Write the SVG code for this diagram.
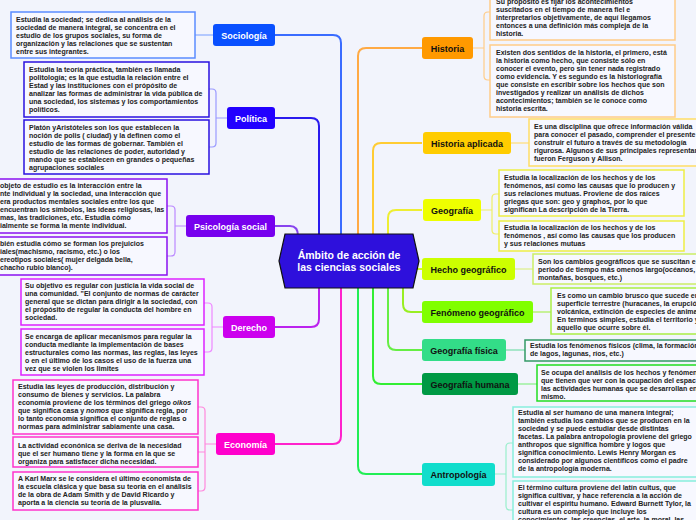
<svg xmlns="http://www.w3.org/2000/svg" width="696" height="520" viewBox="0 0 696 520">
<style>
.t{font-family:"Liberation Sans",Arial,sans-serif;font-weight:bold;font-size:7px;fill:#222}
.lb{font-family:"Liberation Sans",Arial,sans-serif;font-weight:bold;font-size:9px;text-anchor:middle}
.w{fill:#fff}.k{fill:#111}
.box{fill:#f7f8ff;stroke-width:1.5}
.c{fill:none;stroke-width:2}
.b{fill:none;stroke-width:1.2}
</style>
<rect width="696" height="520" fill="#f2f4fc"/>
<g id="connectors">
<path class="c" stroke="#3a6cff" d="M275,35H333Q341,35 341,43V234"/>
<path class="c" stroke="#2a1aee" d="M275,118H311Q319,118 319,126V234"/>
<path class="c" stroke="#8844ee" d="M275,226H290Q298,226 298,236"/>
<path class="c" stroke="#bb22ee" d="M275,327H311Q319,327 319,319V288"/>
<path class="c" stroke="#ff22cc" d="M275,444H333Q341,444 341,436V288"/>
<path class="c" stroke="#ffaa44" d="M422,48H366Q358,48 358,56V234"/>
<path class="c" stroke="#ffcc33" d="M422,143H381Q373,143 373,151V234"/>
<path class="c" stroke="#eeee33" d="M422,210H396Q388,210 388,218V234"/>
<path class="c" stroke="#ccff22" d="M416,269H422"/>
<path class="c" stroke="#99ee22" d="M422,312H411Q403,312 403,304V288"/>
<path class="c" stroke="#66ee44" d="M422,350H396Q388,350 388,342V288"/>
<path class="c" stroke="#33ee33" d="M422,384H381Q373,384 373,376V288"/>
<path class="c" stroke="#22ee55" d="M422,474H366Q358,474 358,466V288"/>
<path class="b" stroke="#88aaff" d="M195,35H213"/>
<path class="b" stroke="#9a9aff" d="M227,118H216M209,89H212Q216,89 216,93V143Q216,147 212,147H209"/>
<path class="b" stroke="#bb88ff" d="M186,226H175M167,206H171Q175,206 175,210V252Q175,256 171,256H167"/>
<path class="b" stroke="#ee88ff" d="M223,327H212M204,303H208Q212,303 212,307V348Q212,352 208,352H204"/>
<path class="b" stroke="#ff88dd" d="M216,444H205M198,407H201Q205,407 205,411V487Q205,491 201,491H198M198,452H205"/>
<path class="b" stroke="#ffcc88" d="M473,48H484M490,12H488Q484,12 484,16V76Q484,80 488,80H490"/>
<path class="b" stroke="#ffdd77" d="M511,143H529"/>
<path class="b" stroke="#eeee66" d="M481,210H492M499,194H496Q492,194 492,198V230Q492,234 496,234H499"/>
<path class="b" stroke="#ddee88" d="M515,269H533"/>
<path class="b" stroke="#aaee55" d="M533,312H551"/>
<path class="b" stroke="#77ddaa" d="M506,350H525"/>
<path class="b" stroke="#88ee88" d="M518,384H537"/>
<path class="b" stroke="#99eecc" d="M495,474H506M513,443H510Q506,443 506,447V506Q506,510 510,510H513"/>
</g>
<g id="center">
<polygon points="279,261 285,234 413,234 419,261 413,288 285,288" fill="#2e10dc" stroke="#111" stroke-width="1.2"/>
<text x="349" y="259" text-anchor="middle" style="font-family:'Liberation Sans',Arial,sans-serif;font-weight:bold;font-size:10.5px;fill:#fff">Ámbito de acción de</text>
<text x="349" y="271" text-anchor="middle" style="font-family:'Liberation Sans',Arial,sans-serif;font-weight:bold;font-size:10.5px;fill:#fff">las ciencias sociales</text>
</g>
<g id="sociologia">
<rect x="213" y="24" width="62" height="22" rx="3" fill="#0a50ff"/>
<text class="lb w" x="244" y="38.5">Sociología</text>
<rect class="box" x="11" y="12" width="184" height="46" stroke="#5b8cff"/>
<text class="t" x="16" y="22">Estudia la sociedad; se dedica al análisis de la</text>
<text class="t" x="16" y="30">sociedad de manera integral, se concentra en el</text>
<text class="t" x="16" y="38">estudio de los grupos sociales, su forma de</text>
<text class="t" x="16" y="46">organización y las relaciones que se sustentan</text>
<text class="t" x="16" y="54">entre sus integrantes.</text>
</g>
<g id="politica">
<rect x="227" y="107" width="48" height="22" rx="3" fill="#2200ff"/>
<text class="lb w" x="251" y="121.5">Política</text>
<rect class="box" x="24" y="62" width="185" height="55" stroke="#2a10e0"/>
<text class="t" x="29" y="72">Estudia la teoría práctica, también es llamada</text>
<text class="t" x="29" y="80">politología; es la que estudia la relación entre el</text>
<text class="t" x="29" y="88">Estad y las instituciones con el própósito de</text>
<text class="t" x="29" y="96">analizar las formas de administrar la vida pública de</text>
<text class="t" x="29" y="104">una sociedad, los sistemas y los comportamientos</text>
<text class="t" x="29" y="112">políticos.</text>
<rect class="box" x="24" y="120" width="185" height="54" stroke="#2a10e0"/>
<text class="t" x="29" y="130">Platón yAristóteles son los que establecen la</text>
<text class="t" x="29" y="138">noción de polis ( ciudad) y la definen como el</text>
<text class="t" x="29" y="146">estudio de las formas de gobernar. También el</text>
<text class="t" x="29" y="154">estudio de las relaciones de poder, autoridad y</text>
<text class="t" x="29" y="162">mando que se establecen en grandes o pequeñas</text>
<text class="t" x="29" y="170">agrupaciones sociales</text>
</g>
<g id="psicologia">
<rect x="186" y="215" width="89" height="22" rx="3" fill="#7700ee"/>
<text class="lb w" x="230.5" y="229.5">Psicología social</text>
<rect class="box" x="-2" y="179" width="169" height="54" stroke="#8a10f0"/>
<text class="t" x="0" y="188">objeto de estudio es la interacción entre la</text>
<text class="t" x="0" y="196">nte individual y la sociedad, una interacción que</text>
<text class="t" x="0" y="204">era productos mentales sociales entre los que</text>
<text class="t" x="0" y="212">encuentran los símbolos, las ideas religiosas, las</text>
<text class="t" x="0" y="220">mas, las tradiciones, etc. Estudia cómo</text>
<text class="t" x="0" y="228">ialmente se forma la mente individual.</text>
<rect class="box" x="-2" y="237" width="169" height="38" stroke="#8a10f0"/>
<text class="t" x="0" y="246">bién estudia cómo se forman los prejuicios</text>
<text class="t" x="0" y="254">iales(machismo, racismo, etc.) o los</text>
<text class="t" x="0" y="262">ereotipos sociales( mujer delgada bella,</text>
<text class="t" x="0" y="270">chacho rubio blanco).</text>
</g>
<g id="derecho">
<rect x="223" y="316" width="52" height="22" rx="3" fill="#cc00ee"/>
<text class="lb w" x="249" y="330.5">Derecho</text>
<rect class="box" x="21" y="279" width="183" height="46" stroke="#dd22ff"/>
<text class="t" x="25" y="288">Su objetivo es regular con justicia la vida social de</text>
<text class="t" x="25" y="296">una comunidad. "El conjunto de normas de carácter</text>
<text class="t" x="25" y="304">general que se dictan para dirigir a la sociedad, con</text>
<text class="t" x="25" y="312">el própósito de regular la conducta del hombre en</text>
<text class="t" x="25" y="320">sociedad.</text>
<rect class="box" x="21" y="329" width="183" height="46" stroke="#dd22ff"/>
<text class="t" x="25" y="339">Se encarga de aplicar mecanismos para regular la</text>
<text class="t" x="25" y="347">conducta mediante la implementación de bases</text>
<text class="t" x="25" y="355">estructurales como las normas, las reglas, las leyes</text>
<text class="t" x="25" y="363">o en el último de los casos el uso de la fuerza una</text>
<text class="t" x="25" y="371">vez que se violen los limites</text>
</g>
<g id="economia">
<rect x="216" y="433" width="59" height="22" rx="3" fill="#ff00cc"/>
<text class="lb w" x="245.5" y="447.5">Economía</text>
<rect class="box" x="13" y="380" width="185" height="54" stroke="#ff33cc"/>
<text class="t" x="18" y="389">Estudia las leyes de producción, distribución y</text>
<text class="t" x="18" y="397">consumo de bienes y servicios. La palabra</text>
<text class="t" x="18" y="405">economía proviene de los términos del griego <tspan font-style="italic">oikos</tspan></text>
<text class="t" x="18" y="413">que significa casa y <tspan font-style="italic">nomos</tspan> que significa regla, por</text>
<text class="t" x="18" y="421">lo tanto economía significa el conjunto de reglas o</text>
<text class="t" x="18" y="429">normas para administrar sabiamente una casa.</text>
<rect class="box" x="13" y="437" width="185" height="30" stroke="#ff33cc"/>
<text class="t" x="18" y="448">La actividad econónica se deriva de la necesidad</text>
<text class="t" x="18" y="456">que el ser humano tiene y la forma en la que se</text>
<text class="t" x="18" y="464">organiza para satisfacer dicha necesidad.</text>
<rect class="box" x="13" y="472" width="185" height="38" stroke="#ff33cc"/>
<text class="t" x="18" y="481">A Karl Marx se le considera el último economista de</text>
<text class="t" x="18" y="489">la escuela clásica y que basa su teoría en el análisis</text>
<text class="t" x="18" y="497">de la obra de Adam Smith y de David Ricardo y</text>
<text class="t" x="18" y="505">aporta a la ciencia su teoría de la plusvalía.</text>
</g>
<g id="historia">
<rect x="422" y="37" width="51" height="22" rx="3" fill="#ff9900"/>
<text class="lb k" x="447.5" y="51.5">Historia</text>
<rect class="box" x="490" y="-3" width="185" height="43" stroke="#ffcc88"/>
<text class="t" x="496" y="4.3">Su propósito es fijar los acontecimientos</text>
<text class="t" x="496" y="12.3">suscitados en el tiempo de manera fiel e</text>
<text class="t" x="496" y="20.3">interpretarlos objetivamente, de aquí llegamos</text>
<text class="t" x="496" y="28.3">entonces a una definición más compleja de la</text>
<text class="t" x="496" y="36.3">historia.</text>
<rect class="box" x="490" y="45" width="185" height="72" stroke="#ffcc88"/>
<text class="t" x="496" y="55">Existen dos sentidos de la historia, el primero, está</text>
<text class="t" x="496" y="63">la historia como hecho, que consiste sólo en</text>
<text class="t" x="496" y="71">conocer el evento, pero sin tener nada registrado</text>
<text class="t" x="496" y="79">como evidencia. Y es segundo es la historiografía</text>
<text class="t" x="496" y="87">que consiste en escribir sobre los hechos que son</text>
<text class="t" x="496" y="95">investigados y realizar un análisis de dichos</text>
<text class="t" x="496" y="103">acontecimientos; también se le conoce como</text>
<text class="t" x="496" y="111">historia escrita.</text>
</g>
<g id="historia-aplicada">
<rect x="423" y="132" width="88" height="22" rx="3" fill="#ffcc00"/>
<text class="lb k" x="467" y="146.5">Historia aplicada</text>
<rect class="box" x="529" y="119" width="172" height="47" stroke="#ffdd66"/>
<text class="t" x="534" y="128.5">Es una disciplina que ofrece información válida</text>
<text class="t" x="534" y="136.5">para conocer el pasado, comprender el presente</text>
<text class="t" x="534" y="144.5">construir el futuro a través de su metodología</text>
<text class="t" x="534" y="152.5">rigurosa. Algunos de sus principales representan</text>
<text class="t" x="534" y="160.5">fueron Ferguson y Allison.</text>
</g>
<g id="geografia">
<rect x="423" y="199" width="58" height="22" rx="3" fill="#eeff00"/>
<text class="lb k" x="452" y="213.5">Geografía</text>
<rect class="box" x="499" y="170" width="185" height="46" stroke="#eeee44"/>
<text class="t" x="504" y="180">Estudia la localización de los hechos y de los</text>
<text class="t" x="504" y="188">fenómenos, así como las causas que lo producen y</text>
<text class="t" x="504" y="196">sus relaciones mutuas. Proviene de dos raíces</text>
<text class="t" x="504" y="204">griegas que son: geo y graphos, por lo que</text>
<text class="t" x="504" y="212">significan La descripción de la Tierra.</text>
<rect class="box" x="499" y="221" width="185" height="30" stroke="#eeee44"/>
<text class="t" x="504" y="230">Estudia la localización de los hechos y de los</text>
<text class="t" x="504" y="238">fenómenos , así como las causas que los producen</text>
<text class="t" x="504" y="246">y sus relaciones mutuas</text>
</g>
<g id="hecho-geografico">
<rect x="422" y="258" width="93" height="22" rx="3" fill="#ccff00"/>
<text class="lb k" x="468.5" y="272.5">Hecho geográfico</text>
<rect class="box" x="533" y="254" width="170" height="30" stroke="#ccee66"/>
<text class="t" x="538" y="264">Son los cambios geográficos que se suscitan e</text>
<text class="t" x="538" y="272">periodo de tiempo más omenos largo(océanos,</text>
<text class="t" x="538" y="280">montañas, bosques, etc.)</text>
</g>
<g id="fenomeno-geografico">
<rect x="422" y="301" width="111" height="22" rx="3" fill="#80ff00"/>
<text class="lb k" x="477.5" y="315.5">Fenómeno geográfico</text>
<rect class="box" x="551" y="288" width="150" height="46" stroke="#aaee44"/>
<text class="t" x="557" y="298">Es como un cambio brusco que sucede en</text>
<text class="t" x="557" y="306">superficie terrestre (huracanes, la erupció</text>
<text class="t" x="557" y="314">volcánica, extinción de especies de anima</text>
<text class="t" x="557" y="322">En terminos simples, estudia el territorio y</text>
<text class="t" x="557" y="330">aquello que ocurre sobre él.</text>
</g>
<g id="geografia-fisica">
<rect x="422" y="339" width="84" height="22" rx="3" fill="#33dd88"/>
<text class="lb k" x="464" y="353.5">Geografía física</text>
<rect class="box" x="525" y="340" width="176" height="21" stroke="#339966"/>
<text class="t" x="530" y="347.5">Estudia los fenómenos físicos (clima, la formación</text>
<text class="t" x="530" y="355.5">de lagos, lagunas, ríos, etc.)</text>
</g>
<g id="geografia-humana">
<rect x="422" y="373" width="96" height="22" rx="3" fill="#009944"/>
<text class="lb k" x="470" y="387.5">Geografía humana</text>
<rect class="box" x="537" y="365" width="165" height="36" stroke="#22dd22"/>
<text class="t" x="541" y="374.5">Se ocupa del análisis de los hechos y fenómen</text>
<text class="t" x="541" y="382.5">que tienen que ver con la ocupación del espac</text>
<text class="t" x="541" y="390.5">las actividades humanas que se desarrollan en</text>
<text class="t" x="541" y="398.5">mismo.</text>
</g>
<g id="antropologia">
<rect x="422" y="463" width="73" height="23" rx="3" fill="#11ddcc"/>
<text class="lb k" x="458.5" y="477.5">Antropología</text>
<rect class="box" x="513" y="407" width="190" height="70" stroke="#88eedd"/>
<text class="t" x="518" y="415">Estudia al ser humano de una manera integral;</text>
<text class="t" x="518" y="423">también estudia los cambios que se producen en la</text>
<text class="t" x="518" y="431">sociedad y se puede estudiar desde distintas</text>
<text class="t" x="518" y="439">facetas. La palabra antropología proviene del griego</text>
<text class="t" x="518" y="447">anthropos que significa hombre y logos que</text>
<text class="t" x="518" y="455">significa conocimiento. Lewis Henry Morgan es</text>
<text class="t" x="518" y="463">considerado por algunos científicos como el padre</text>
<text class="t" x="518" y="471">de la antropología moderna.</text>
<rect class="box" x="513" y="481" width="190" height="49" stroke="#88eedd"/>
<text class="t" x="518" y="489.5">El término cultura proviene del latín cultus, que</text>
<text class="t" x="518" y="497.5">significa cultivar, y hace referencia a la acción de</text>
<text class="t" x="518" y="505.5">cultivar el espíritu humano. Edward Burnett Tylor, la</text>
<text class="t" x="518" y="513.5">cultura es un complejo que incluye los</text>
<text class="t" x="518" y="521.5">conocimientos, las creencias, el arte, la moral, las</text>
</g>
</svg>
